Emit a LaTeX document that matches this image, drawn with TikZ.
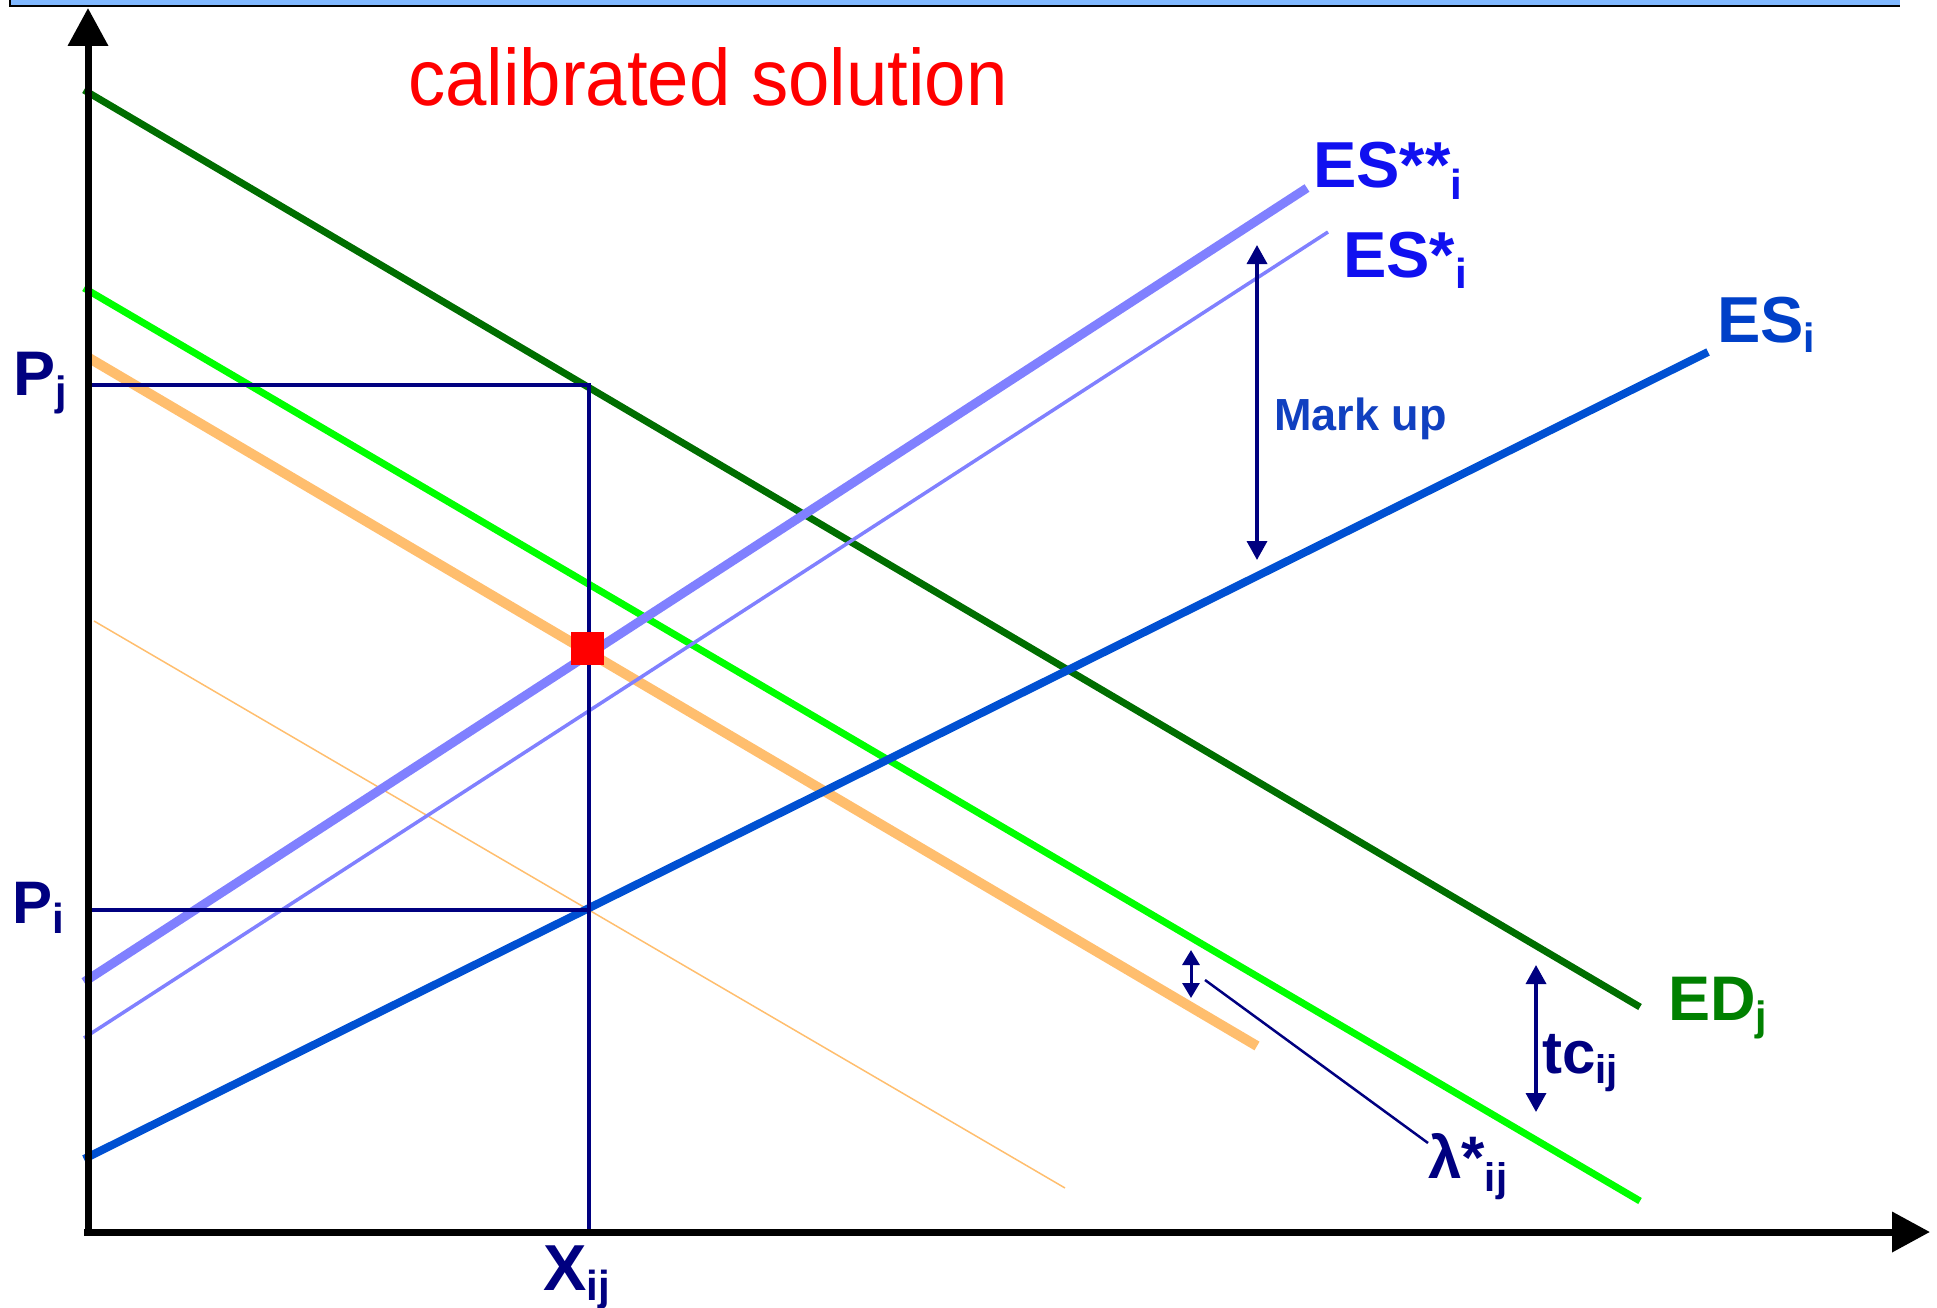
\documentclass[tikz,border=0pt]{standalone}
\usepackage{fontspec}
\setmainfont{Liberation Sans}
\usetikzlibrary{arrows.meta}
\definecolor{navy}{RGB}{0,0,128}
\definecolor{edgreen}{RGB}{0,110,0}
\definecolor{edlabel}{RGB}{0,128,0}
\definecolor{brightgreen}{RGB}{0,255,0}
\definecolor{orangeln}{RGB}{255,190,110}
\definecolor{esblue}{RGB}{0,80,210}
\definecolor{eslabel}{RGB}{0,64,200}
\definecolor{lilac}{RGB}{128,128,255}
\definecolor{purelabel}{RGB}{16,16,240}
\definecolor{markup}{RGB}{16,64,192}
\definecolor{barblue}{RGB}{128,184,255}
\newcommand\myfs[1]{\fontsize{#1}{#1}\selectfont}
\newcommand\lbsub[3]{\raisebox{-#2pt}{\myfs{#1}#3}}
\begin{document}
\begin{tikzpicture}[x=1pt,y=-1pt,
  lab/.style={anchor=base west, inner sep=0pt, font=\bfseries\myfs{63}},
  guide/.style={navy, line width=4pt},
  dbl/.style={navy, line width=3.5pt, {Triangle[width=20pt,length=19pt]}-{Triangle[width=20pt,length=19pt]}},
  axis/.style={black, line width=7pt, -{Triangle[width=39pt,length=38pt]}}]
\useasboundingbox (0,0) rectangle (1937,1308);
% top bar
\fill[barblue] (10,0) rectangle (1900,6);
\draw[black, line width=2pt] (10,6) -- (1900,6);
\draw[black, line width=2pt] (10,0) -- (10,7);
% coordinates
\coordinate (ytop) at (88,8);
\coordinate (ybot) at (88,1235);
\coordinate (xl) at (84,1232);
\coordinate (xr) at (1930,1232);
\coordinate (ed1) at (84,90);   \coordinate (ed2) at (1640,1007);
\coordinate (bg1) at (84,288);  \coordinate (bg2) at (1640,1201);
\coordinate (or1) at (89,358);  \coordinate (or2) at (1257,1046);
\coordinate (ot1) at (94,621);  \coordinate (ot2) at (1065,1188);
\coordinate (es1) at (84,1159); \coordinate (es2) at (1708,352);
\coordinate (ess1) at (84,982); \coordinate (ess2) at (1307,188);
\coordinate (est1) at (84,1038);\coordinate (est2) at (1328,232);
\coordinate (pj) at (88,385);   \coordinate (pjx) at (589,385);
\coordinate (pi) at (88,910);   \coordinate (pix) at (589,910);
\coordinate (xij) at (589,1232);
% curves
\draw[orangeln, line width=1.5pt] (ot1) -- (ot2);
\draw[edgreen, line width=7pt] (ed1) -- (ed2);
\draw[brightgreen, line width=7pt] (bg1) -- (bg2);
\draw[orangeln, line width=10pt] (or1) -- (or2);
\draw[lilac, line width=3.5pt] (est1) -- (est2);
\draw[lilac, line width=9pt] (ess1) -- (ess2);
\draw[esblue, line width=8pt] (es1) -- (es2);
% guides
\draw[guide] (pj) -- (pjx) -- (xij);
\draw[guide] (pi) -- (pix);
% axes
\draw[axis] (ybot) -- (ytop);
\draw[axis] (xl) -- (xr);
% equilibrium marker
\node[fill=red, minimum size=33pt, inner sep=0pt] (eq) at (587,648) {};
% arrows
\coordinate (mu1) at (1257,245); \coordinate (mu2) at (1257,560);
\draw[dbl] (mu1) -- (mu2);
\coordinate (tc1) at (1536,965); \coordinate (tc2) at (1536,1112);
\draw[dbl] (tc1) -- (tc2);
\coordinate (la1) at (1191,950); \coordinate (la2) at (1191,998);
\draw[navy, line width=3pt, {Triangle[width=17pt,length=15pt]}-{Triangle[width=17pt,length=15pt]}] (la1) -- (la2);
% labels
\node[anchor=base west, inner sep=0pt, text=red, font=\myfs{80}, xscale=0.93] (title) at (408,106) {calibrated solution};
\node[lab, text=purelabel, font=\bfseries\myfs{65}] (less) at (1313,188) {ES**\lbsub{42}{12}{i}};
\node[lab, text=purelabel, font=\bfseries\myfs{65}] (lest) at (1343,277) {ES*\lbsub{42}{11}{i}};
\node[lab, text=eslabel, font=\bfseries\myfs{65}] (les) at (1717,342) {ES\lbsub{41}{10}{i}};
\node[lab, text=edlabel] (led) at (1668,1020) {ED\lbsub{41}{10}{j}};
\node[lab, text=navy] (lpj) at (13,395) {P\lbsub{41}{10}{j}};
\node[lab, text=navy, font=\bfseries\myfs{60}] (lpi) at (12,923) {P\lbsub{42}{10}{i}};
\node[lab, text=navy, font=\bfseries\myfs{65}] (lxij) at (543,1290) {X\lbsub{42}{10}{ij}};
\node[lab, text=navy, font=\bfseries\myfs{60}] (llam) at (1428,1178) {λ*\lbsub{40}{13}{ij}};
\node[lab, text=navy, font=\bfseries\myfs{60}] (ltc) at (1542,1073) {tc\lbsub{40}{10}{ij}};
\node[lab, text=markup, font=\bfseries\myfs{45}] (lmu) at (1274,430) {Mark up};
% leader
\coordinate (ld1) at (1205,980);
\draw[navy, line width=2.5pt] (ld1) -- (llam.west |- 0,1143);
\end{tikzpicture}
\end{document}
